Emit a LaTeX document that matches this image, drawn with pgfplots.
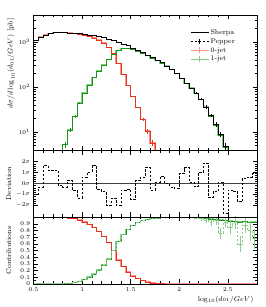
\documentclass[border=0pt]{standalone}
\usepackage{pgfplots}
\pgfplotsset{compat=1.18}
\usepackage{pgfplotstable}
\definecolor{dred}{RGB}{235,50,30}
\definecolor{lred}{RGB}{250,150,135}
\definecolor{dgreen}{RGB}{25,150,25}
\definecolor{lgreen}{RGB}{135,205,135}

\pgfplotstableread{
x T
0.50 1096
0.55 1288
0.60 1445
0.65 1567
0.70 1641
0.75 1660
0.80 1641
0.85 1603
0.90 1567
0.95 1531
1.00 1479
1.05 1429
1.10 1380
1.15 1318
1.20 1259
1.25 1175
1.30 1096
1.35 1000
1.40 912
1.45 832
1.50 741
1.55 661
1.60 589
1.65 519
1.70 457
1.75 398
1.80 347
1.85 295
1.90 245
1.95 200
2.00 158
2.05 123
2.10 95.5
2.15 72.4
2.20 53.7
2.25 36.3
2.30 23.4
2.35 14.8
2.40 8.9
2.45 4.8
2.50 2.5
2.55 1.26
2.60 0.6
2.65 0.3
2.70 0.15
2.75 0.08
2.80 0.08
}\maintab

\pgfplotstableread{
x R
0.50 1096
0.55 1288
0.60 1445
0.65 1565
0.70 1638
0.75 1655
0.80 1633
0.85 1585
0.90 1549
0.95 1479
1.00 1396
1.05 1318
1.10 1230
1.15 1122
1.20 955
1.25 759
1.30 562
1.35 331
1.40 191
1.45 110
1.50 61.7
1.55 34.7
1.60 19.1
1.65 10.5
1.70 5.75
1.75 2.8
1.80 1.3
1.85 1.3
}\redtab

\pgfplotstableread{
x G
0.75 2.0
0.80 5.25
0.85 11.2
0.90 22.4
0.95 44.7
1.00 74.1
1.05 112
1.10 162
1.15 229
1.20 309
1.25 407
1.30 525
1.35 660
1.40 718
1.45 724
1.50 692
1.55 631
1.60 569
1.65 501
1.70 442
1.75 392
1.80 344
1.85 293
1.90 244
1.95 199
2.00 157
2.05 122
2.10 94.8
2.15 71.8
2.20 53.2
2.25 35.9
2.30 23.0
2.35 14.5
2.40 8.6
2.45 4.6
2.50 2.4
2.55 1.2
2.60 0.57
2.65 0.28
2.70 0.14
2.75 0.075
2.80 0.075
}\greentab

\pgfplotstableread{
x y e
2.175 72.4 3.6
2.225 53.7 3.2
2.275 36.3 2.9
2.325 23.4 2.3
2.375 14.8 1.8
2.425 8.9 1.3
2.475 4.8 1.0
}\pepmerr

\pgfplotstableread{
x y e
1.625 19.1 1.5
1.675 10.5 1.2
1.725 5.75 0.9
}\redmerr

\pgfplotstableread{
x y e
0.825 5.25 0.8
0.875 11.2 1.3
0.925 22.4 2.0
0.975 44.7 3.0
}\greenmerr

\pgfplotstableread{
x d
0.50 -1.0
0.55 -0.3
0.60 1.65
0.65 1.2
0.70 1.25
0.75 -0.15
0.80 -0.3
0.85 0.3
0.90 -0.6
0.95 -1.3
1.00 0.6
1.05 1.05
1.10 1.65
1.15 -0.55
1.20 -0.75
1.25 -2.0
1.30 -1.35
1.35 -2.0
1.40 -0.6
1.45 -0.55
1.50 -1.45
1.55 0.3
1.60 0.6
1.65 1.45
1.70 -0.6
1.75 0.15
1.80 0.65
1.85 0.0
1.90 -0.3
1.95 -0.45
2.00 0.9
2.05 1.45
2.10 0.15
2.15 -0.25
2.20 1.05
2.25 1.85
2.30 -1.25
2.35 -0.75
2.40 0.15
2.45 -2.7
2.50 -0.6
2.55 -0.7
2.60 -1.65
2.65 0.45
2.70 0.6
2.75 0.9
2.80 0.9
}\devtab

\pgfplotstableread{
x fr fg fgp
0.50 1 0 0
0.55 1 0 0
0.60 1 0 0
0.65 0.999 0.001 0.001
0.70 0.998 0.002 0.002
0.75 0.997 0.003 0.003
0.80 0.995 0.005 0.005
0.85 0.99 0.01 0.01
0.90 0.98 0.02 0.02
0.95 0.96 0.04 0.04
1.00 0.93 0.07 0.07
1.05 0.895 0.105 0.105
1.10 0.85 0.15 0.15
1.15 0.79 0.21 0.21
1.20 0.715 0.285 0.285
1.25 0.625 0.375 0.375
1.30 0.50 0.50 0.50
1.35 0.36 0.64 0.64
1.40 0.26 0.74 0.74
1.45 0.18 0.82 0.82
1.50 0.12 0.88 0.88
1.55 0.08 0.92 0.92
1.60 0.05 0.95 0.95
1.65 0.03 0.97 0.97
1.70 0.017 0.983 0.983
1.75 0.008 0.992 0.992
1.80 0.004 0.996 0.996
1.85 0.002 0.998 0.998
1.90 0.001 0.999 0.999
1.95 0 0.998 0.998
2.00 0 0.997 0.997
2.05 0 0.996 0.996
2.10 0 0.995 0.995
2.15 0 0.993 0.99
2.20 0 0.99 0.98
2.25 0 0.985 0.96
2.30 0 0.975 0.92
2.35 0 0.97 0.95
2.40 0 0.96 0.76
2.45 0 0.955 0.93
2.50 0 0.945 0.85
2.55 0 0.94 0.92
2.60 0 0.93 0.60
2.65 0 0.935 0.88
2.70 0 0.925 0.80
2.75 0 0.93 0.68
2.80 0 0.93 0.68
}\ctab

\pgfplotstableread{
x y e
2.175 0.99 0.02
2.225 0.98 0.03
2.275 0.96 0.04
2.325 0.92 0.05
2.375 0.95 0.06
2.425 0.76 0.08
2.475 0.93 0.08
2.525 0.85 0.10
2.575 0.92 0.10
2.625 0.60 0.12
2.675 0.88 0.12
2.725 0.80 0.15
2.775 0.68 0.15
}\pepcerr

\pgfplotsset{
  panel/.style={
    scale only axis, width=223.5bp, anchor=south west,
    xmin=0.5, xmax=2.8, xtick={0.5,1,1.5,2,2.5}, minor x tick num=4,
    tick label style={font=\fontsize{6.5}{7}\selectfont},
    label style={font=\fontsize{7}{8}\selectfont},
    axis line style={line width=0.5pt},
    tick style={line width=0.4pt, black},
    major tick length=4.5bp, minor tick length=2.5bp,
  },
  hist/.style={const plot mark left, forget plot},
}

\begin{document}
\begin{tikzpicture}
\path[use as bounding box] (0,0) rectangle (266bp,307bp);

% ---------------- main panel
\begin{axis}[panel, at={(33.5bp,157bp)}, height=135bp,
  ymode=log, ymin=4, ymax=4000, xticklabel=\empty,
  ylabel={$d\sigma/d\log_{10}(d_{01}/GeV)$ [pb]},
  ylabel style={at={(axis description cs:-0.093,1)}, anchor=base east},
  legend style={at={(0.70,0.905)}, anchor=north west, draw=none, fill=none,
    font=\fontsize{7}{8}\selectfont, inner sep=0pt,
    nodes={inner sep=1.2bp, text height=5bp, text depth=1.5bp},
    cells={anchor=west}, row sep=0pt},
]
\addlegendimage{legend image code/.code={\draw[black,line width=0.6pt] (0bp,0bp)--(18bp,0bp);}}
\addlegendentry{Sherpa}
\addlegendimage{legend image code/.code={\draw[black,line width=0.6pt,dash pattern=on 2.5bp off 1.5bp] (0bp,0bp)--(18bp,0bp); \draw[black,line width=0.6pt] (9bp,-2.5bp)--(9bp,2.5bp) (7.5bp,0bp)--(10.5bp,0bp);}}
\addlegendentry{Pepper}
\addlegendimage{legend image code/.code={\draw[lred,line width=1.2pt] (0bp,0bp)--(18bp,0bp); \draw[lred,line width=0.6pt] (9bp,-3bp)--(9bp,3bp);}}
\addlegendentry{0-jet}
\addlegendimage{legend image code/.code={\draw[lgreen,line width=1.2pt] (0bp,0bp)--(18bp,0bp); \draw[lgreen,line width=0.6pt] (9bp,-3bp)--(9bp,3bp);}}
\addlegendentry{1-jet}

\addplot[hist, lred, line width=1.4pt] table[x=x,y=R]{\redtab};
\addplot[hist, lgreen, line width=1.4pt] table[x=x,y=G]{\greentab};
\addplot[hist, dred, line width=0.6pt] table[x=x,y=R]{\redtab};
\addplot[hist, dgreen, line width=0.6pt] table[x=x,y=G]{\greentab};
\addplot[hist, black, line width=0.6pt] table[x=x,y=T]{\maintab};
\addplot[hist, black, line width=0.6pt, dash pattern=on 2.5bp off 1.5bp] table[x=x,y=T]{\maintab};
\addplot[forget plot, black, only marks, mark=-, mark size=1.5bp, error bars/.cd, y dir=both, y explicit, error mark=none] table[x=x,y=y,y error=e]{\pepmerr};
\addplot[forget plot, dred, only marks, mark=-, mark size=1.5bp, error bars/.cd, y dir=both, y explicit, error mark=none] table[x=x,y=y,y error=e]{\redmerr};
\addplot[forget plot, dgreen, only marks, mark=-, mark size=1.5bp, error bars/.cd, y dir=both, y explicit, error mark=none] table[x=x,y=y,y error=e]{\greenmerr};
\end{axis}

% ---------------- deviation panel
\begin{axis}[panel, at={(33.5bp,90bp)}, height=67bp,
  ymin=-3.05, ymax=3.05, ytick={-2,-1,0,1,2},
  yticklabels={$-2\sigma$,$-1\sigma$,$0\sigma$,$1\sigma$,$2\sigma$},
  minor y tick num=4, xticklabel=\empty,
  ylabel={Deviation},
  ylabel style={at={(axis description cs:-0.10,0.5)}, anchor=base},
]
\addplot[forget plot, black!75, line width=0.6pt] coordinates {(0.5,0) (2.8,0)};
\addplot[hist, black, line width=0.5pt, dash pattern=on 2.5bp off 1.5bp] table[x=x,y=d]{\devtab};
\end{axis}

% ---------------- contributions panel
\begin{axis}[panel, at={(33.5bp,23bp)}, height=67bp,
  ymin=0, ymax=1.005, ytick={0,0.1,0.2,0.3,0.4,0.5,0.6,0.7,0.8,0.9},
  minor y tick num=1,
  ylabel={Contributions},
  ylabel style={at={(axis description cs:-0.10,0.5)}, anchor=base},
  xlabel={$\log_{10}(d_{01}/GeV)$},
  xlabel style={at={(axis description cs:1,0)}, anchor=base east, yshift=-17bp},
]
\addplot[hist, lred, line width=1.3pt] table[x=x,y=fr]{\ctab};
\addplot[hist, lgreen, line width=1.3pt] table[x=x,y=fg]{\ctab};
\addplot[hist, dred, line width=0.6pt] table[x=x,y=fr]{\ctab};
\addplot[hist, dgreen, line width=0.6pt] table[x=x,y=fg]{\ctab};
\addplot[hist, lgreen, line width=0.7pt, dash pattern=on 2.5bp off 1.5bp] table[x=x,y=fgp]{\ctab};
\addplot[forget plot, lgreen, only marks, mark=-, mark size=1.2bp, error bars/.cd, y dir=both, y explicit, error mark=none] table[x=x,y=y,y error=e]{\pepcerr};
\addplot[forget plot, black, line width=0.8pt] coordinates {(0.5,1) (2.8,1)};
\end{axis}
\end{tikzpicture}
\end{document}
